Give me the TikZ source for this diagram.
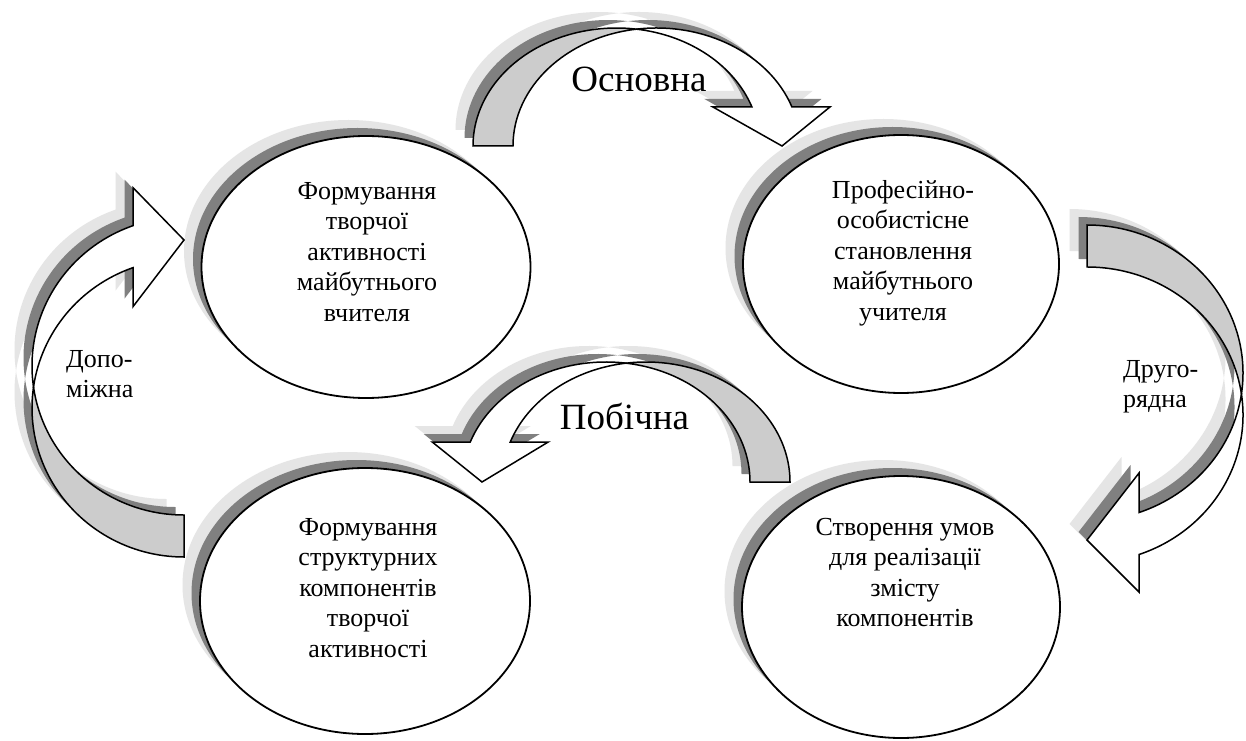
\documentclass[tikz,border=0pt]{standalone}
\usepackage{fontspec}
\setmainfont{Liberation Serif}
\usetikzlibrary{shapes.geometric,shadows}

\definecolor{shadowdark}{gray}{0.5}
\definecolor{shadowlight}{gray}{0.9}
\definecolor{bandgray}{gray}{0.8}

% Geometry of a curved block arrow in its own frame: the foot stands on the
% x axis at (0,0)..(t,0); two equal ellipses (radii rx, ry), shifted by t,
% cross near the top; the head sits at height h and points down.
% #1 rx, #2 ry, #3 t, #4 h, #5 left barb, #6 right barb, #7 tip x
\newcommand\cvGeom[7]{%
  \pgfmathsetmacro\cvRx{#1}%
  \pgfmathsetmacro\cvRy{#2}%
  \pgfmathsetmacro\cvT{#3}%
  \pgfmathsetmacro\cvH{#4}%
  \pgfmathsetmacro\cvTip{#7}%
  \pgfmathsetmacro\cvAl{acos(\cvT/(2*\cvRx))}%
  \pgfmathsetmacro\cvGa{180-\cvAl}%
  \pgfmathsetmacro\cvBe{asin(\cvH/\cvRy)}%
  \pgfmathsetmacro\cvAx{\cvRx+\cvRx*cos(\cvBe)}%
  \pgfmathsetmacro\cvBx{\cvAx+\cvT}%
  \pgfmathsetmacro\cvAw{\cvAx-#5}%
  \pgfmathsetmacro\cvBw{\cvBx+#6}%
  \pgfmathsetmacro\cvPx{\cvRx+\cvRx*cos(\cvAl)}%
  \pgfmathsetmacro\cvPy{\cvRy*sin(\cvAl)}%
}
% back (shaded) half of the band
\newcommand\cvBackPath{(0,0) arc[start angle=180,end angle=\cvAl,x radius=\cvRx,y radius=\cvRy]
  arc[start angle=\cvGa,end angle=180,x radius=\cvRx,y radius=\cvRy] -- cycle}
% front half of the band with the arrow head
\newcommand\cvFrontPath{(\cvPx,\cvPy) arc[start angle=\cvGa,end angle=\cvBe,x radius=\cvRx,y radius=\cvRy]
  -- (\cvBw,\cvH) -- (\cvTip,0) -- (\cvAw,\cvH) -- (\cvAx,\cvH)
  arc[start angle=\cvBe,end angle=\cvAl,x radius=\cvRx,y radius=\cvRy] -- cycle}

% #1 placement, #2..#8 geometry
\newcommand\curvedarrow[8]{%
  \cvGeom{#2}{#3}{#4}{#5}{#6}{#7}{#8}%
  \begin{scope}[shift={(-17.5,16)}]\begin{scope}[#1]
    \fill[shadowlight] \cvBackPath;
    \fill[shadowlight] \cvFrontPath;
  \end{scope}\end{scope}%
  \begin{scope}[shift={(-8.5,8)}]\begin{scope}[#1]
    \fill[shadowdark] \cvBackPath;
    \fill[shadowdark] \cvFrontPath;
  \end{scope}\end{scope}%
  \begin{scope}[#1]
    \filldraw[bandback] \cvBackPath;
    \filldraw[bandfront] \cvFrontPath;
  \end{scope}%
}

\tikzset{
  oval/.style={ellipse, draw, line width=1.8pt, fill=white, inner sep=0pt,
    general shadow={shadow xshift=-17.5pt, shadow yshift=16pt, fill=shadowlight, draw=none},
    general shadow={shadow xshift=-8.5pt, shadow yshift=8pt, fill=shadowdark, draw=none}},
  bandback/.style={fill=bandgray, draw=black, line width=1.5pt, line join=miter},
  bandfront/.style={fill=white, draw=black, line width=1.5pt, line join=miter},
  celltext/.style={align=center, inner sep=0pt, font=\fontsize{26}{30.5}\selectfont},
  sidetext/.style={align=left, inner sep=0pt, font=\fontsize{26}{30}\selectfont},
  bigtext/.style={inner sep=0pt, font=\fontsize{37}{44}\selectfont}
}

\begin{document}
\begin{tikzpicture}[x=1pt,y=1pt]
  \useasboundingbox (0,0) rectangle (1246,740);
  \fill[white] (0,0) rectangle (1246,740);

  % the four stages
  \node[oval, minimum width=329, minimum height=262] (e1) at (366,473) {};
  \node[oval, minimum width=316, minimum height=258] (e2) at (901,476) {};
  \node[oval, minimum width=330, minimum height=266] (e3) at (365,139) {};
  \node[oval, minimum width=318, minimum height=262] (e4) at (901,133) {};

  % curved block arrows between the stages
  \curvedarrow{shift={(473,594)}}{143.5}{118}{40}{39}{39}{38}{309}
  \curvedarrow{shift={(790,258)}, xscale=-1}{144}{120}{40}{40}{38}{38}{308}
  \curvedarrow{shift={(1087,515)}, rotate=-90}{148}{156}{42}{52}{39.5}{37.5}{315}
  \curvedarrow{shift={(184,183)}, rotate=90}{149}{152}{42}{51}{39}{38}{317}

  % texts (the base anchor is the baseline of the last line)
  \node[celltext, anchor=base] (t1) at (367,419)
    {Формування\\творчої\\активності\\майбутнього\\вчителя};
  \node[celltext, anchor=base] (t2) at (903,420)
    {Професійно-\\особистісне\\становлення\\майбутнього\\учителя};
  \node[celltext, anchor=base] (t3) at (368,83)
    {Формування\\структурних\\компонентів\\творчої\\активності};
  \node[celltext, anchor=base] (t4) at (905,113.5)
    {Створення умов\\для реалізації\\змісту\\компонентів};

  \node[bigtext, anchor=base] (main) at (639,648) {Основна};
  \node[bigtext, anchor=base] (side) at (624.5,311) {Побічна};
  \node[sidetext, anchor=base west] (aux) at (66,343) {Допо-\\міжна};
  \node[sidetext, anchor=base west] (sec) at (1123,333) {Друго-\\рядна};
\end{tikzpicture}
\end{document}
